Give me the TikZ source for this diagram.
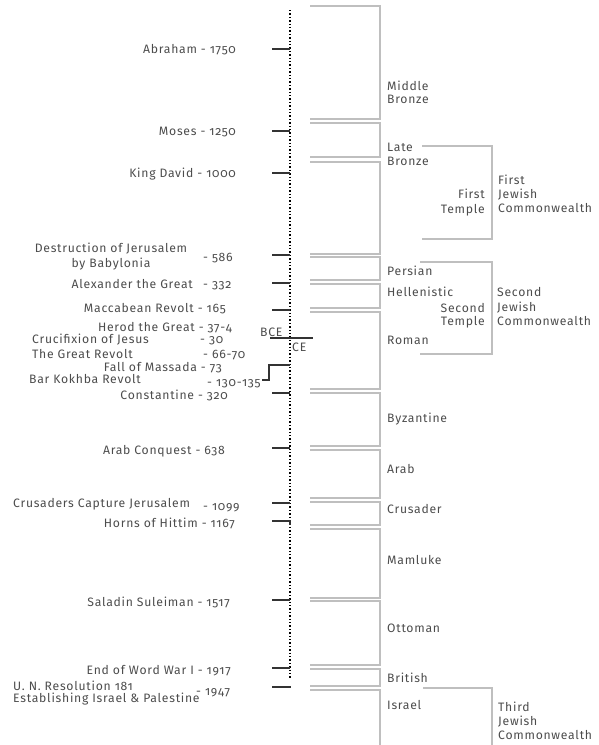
\documentclass[tikz,border=0pt]{standalone}
\usepackage{fontspec}
\setmainfont{Fira Sans}[Numbers=OldStyle,LetterSpace=6]
\begin{document}
\begin{tikzpicture}[x=1pt,y=-1pt,
  txt/.style={inner sep=0pt,text=black!70,font=\fontsize{12.2}{13}\selectfont},
  le/.style={txt,anchor=base east},
  lw/.style={txt,anchor=base west},
  lc/.style={txt,anchor=base},
  period/.style={draw=black!25,line width=1.3pt},
  tick/.style={draw=black!80,line width=1.3pt},
  axis/.style={draw=black,line width=1.4pt,dotted}]
\useasboundingbox (0,0) rectangle (599,745);
% axis
\coordinate (top) at (290,10);
\coordinate (bot) at (290,679);
\draw[axis] (top) -- (bot);
% periods
\foreach \a/\b in {6/119,123/157,162/254,257/280,284/308,312/389,393/446,450/498,502/525,529/598,601/665,669/686}{
  \draw[period] (310,\a) -- (380,\a) -- (380,\b) -- (310,\b);
}
\draw[period] (310,690) -- (380,690) -- (380,745);
% commonwealth brackets
\draw[period] (422,146) -- (492,146) -- (492,239) -- (422,239);
\draw[period] (420,262) -- (492,262) -- (492,354) -- (420,354);
\draw[period] (423,688) -- (492,688) -- (492,745);
% period labels
\node[lw] (mb1) at (387,90) {Middle};
\node[lw] (mb2) at (387,103) {Bronze};
\node[lw] (lb1) at (387,151) {Late};
\node[lw] (lb2) at (387,165) {Bronze};
\node[lw] (per) at (387,275) {Persian};
\node[lw] (hel) at (387,296) {Hellenistic};
\node[lw] (rom) at (387,344) {Roman};
\node[lw] (byz) at (387,422) {Byzantine};
\node[lw] (arb) at (387,473) {Arab};
\node[lw] (cru) at (387,513) {Crusader};
\node[lw] (mam) at (387,564) {Mamluke};
\node[lw] (ott) at (387,632) {Ottoman};
\node[lw] (bri) at (387,682) {British};
\node[lw] (isr) at (387,709) {Israel};
\node[le] (ft1) at (485,198) {First};
\node[le] (ft2) at (485,213) {Temple};
\node[lw] (fc1) at (498,184) {First};
\node[lw] (fc2) at (498,198) {Jewish};
\node[lw] (fc3) at (498,212) {Commonwealth};
\node[le] (st1) at (485,312) {Second};
\node[le] (st2) at (485,325) {Temple};
\node[lw] (sc1) at (497,296) {Second};
\node[lw] (sc2) at (497,311) {Jewish};
\node[lw] (sc3) at (497,325) {Commonwealth};
\node[lw] (tc1) at (498,711) {Third};
\node[lw] (tc2) at (498,725) {Jewish};
\node[lw] (tc3) at (498,739) {Commonwealth};
% events
\node[le] (abr) at (236,53) {Abraham - 1750};
\node[le] (mos) at (236,135) {Moses - 1250};
\node[le] (kdv) at (236,177) {King David - 1000};
\node[lc] (des1) at (111,252) {Destruction of Jerusalem};
\node[lc] (des2) at (111,267) {by Babylonia};
\node[lw] (desy) at (203,261) {- 586};
\node[le] (alx) at (193,288) {Alexander the Great};
\node[lw] (alxy) at (203,288) {- 332};
\node[le] (mac) at (226,312) {Maccabean Revolt - 165};
\node[le] (her) at (232,331) {Herod the Great - 37-4};
\node[lw] (cru1) at (32,343) {Crucifixion of Jesus};
\node[lw] (cruy) at (200,343) {- 30};
\node[lw] (gre) at (32,358) {The Great Revolt};
\node[lw] (grey) at (203,358) {- 66-70};
\node[le] (mas) at (222,371) {Fall of Massada - 73};
\node[lw] (bar) at (29,383) {Bar Kokhba Revolt};
\node[lw] (bary) at (207,386) {- 130-135};
\node[le] (con) at (228,399) {Constantine - 320};
\node[le] (arc) at (225,454) {Arab Conquest - 638};
\node[lw] (crj) at (13,507) {Crusaders Capture Jerusalem};
\node[lw] (crjy) at (203,510) {- 1099};
\node[le] (hor) at (235,527) {Horns of Hittim - 1167};
\node[le] (sal) at (230,606) {Saladin Suleiman - 1517};
\node[le] (ww1) at (231,674) {End of Word War I - 1917};
\node[lw] (un1) at (13,690) {U. N. Resolution 181};
\node[lw] (un2) at (13,702) {Establishing Israel \& Palestine};
\node[lw] (uny) at (196,695) {- 1947};
% ticks
\foreach \y in {49,131,173,255,283,310,393,448,503,600,668}{
  \draw[tick] (272,\y) -- (290,\y);
}
\draw[tick] (272,521) -- (290,521) -- (290,525);
\draw[tick] (272,687) -- (291,687);
\draw[tick] (262,380) -- (269,380) -- (269,365) -- (290,365);
% BCE / CE
\draw[tick] (270,338) -- (313,338);
\node[lw] (bce) at (260,336) {BCE};
\node[lw] (ce) at (292,351) {CE};
\end{tikzpicture}
\end{document}
